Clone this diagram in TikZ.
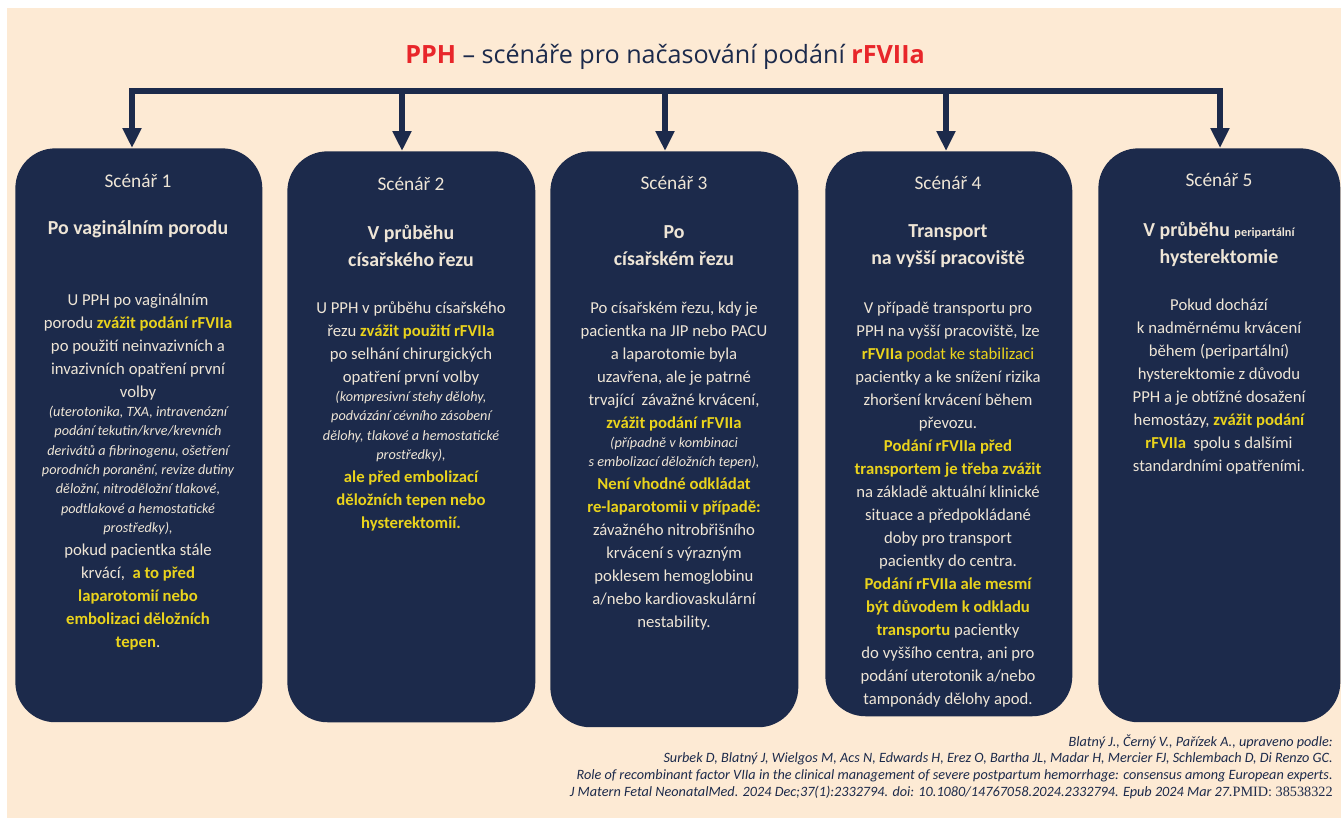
\documentclass[tikz,border=0pt]{standalone}
\usepackage{fontspec}
\setmainfont{Carlito}
\newfontfamily\titlefont{Open Sans}
\newfontfamily\pmidfont{Liberation Serif}
\usetikzlibrary{arrows.meta}

\definecolor{navy}{HTML}{1C2A4B}
\definecolor{peach}{HTML}{FDEAD4}
\definecolor{cardtext}{HTML}{EEE5D6}
\definecolor{hlyellow}{HTML}{EAD31C}
\definecolor{titlered}{HTML}{E8262A}

\newcommand{\hlt}[1]{\textbf{\color{hlyellow}#1}}
\newcommand{\bodysize}{\fontsize{9.5}{13.1}\selectfont}
\newcommand{\notesize}{\fontsize{8.1}{11}\selectfont\itshape}

\tikzset{
  card/.style={fill=navy, rounded corners=0.8cm, inner sep=0pt, anchor=north west},
  scen/.style={text=cardtext, font=\fontsize{11}{13}\selectfont},
  head/.style={text=cardtext, font=\bfseries\fontsize{11.3}{15.3}\selectfont, align=center},
  body/.style={text=cardtext, text width=5.4cm, align=flush center, anchor=base, inner sep=0pt, font=\bodysize},
  drop/.style={draw=navy, line width=0.11cm, -{Triangle[width=0.36cm, length=0.4cm]}},
}

\begin{document}
\begin{tikzpicture}[x=0.02cm, y=-0.02cm]
\useasboundingbox (0,0) rectangle (1341,818);
\fill[white] (0,0) rectangle (1341,818);
\fill[peach] (7,8) rectangle (1341,818);

% title
\node[font=\titlefont\fontsize{14.3}{16}\selectfont, text=navy] (title) at (665,57)
  {\textcolor{titlered}{\bfseries PPH} – scénáře pro načasování podání \textcolor{titlered}{\bfseries rFVIIa}};

% cards
\node[card, minimum width=4.94cm, minimum height=11.48cm] (card1) at (15,148) {};
\node[card, minimum width=4.96cm, minimum height=11.42cm] (card2) at (287,151) {};
\node[card, minimum width=4.96cm, minimum height=11.52cm] (card3) at (550,151) {};
\node[card, minimum width=4.94cm, minimum height=11.30cm] (card4) at (825,151) {};
\node[card, minimum width=4.84cm, minimum height=11.48cm] (card5) at (1098,148) {};

% bus and arrows
\coordinate (b1) at (132,91);
\coordinate (b2) at (402,91);
\coordinate (b3) at (665,91);
\coordinate (b4) at (946,91);
\coordinate (b5) at (1220,91);
\draw[navy, line width=0.13cm, line cap=rect] (b1) -- (b5);
\foreach \i in {1,...,5}
  \draw[drop] (b\i) -- (b\i |- card\i.north);

% scenario labels
\node[scen] (s1) at (138,181) {Scénář 1};
\node[scen] (s2) at (411,184) {Scénář 2};
\node[scen] (s3) at (674,183) {Scénář 3};
\node[scen] (s4) at (948,183) {Scénář 4};
\node[scen] (s5) at (1219,180) {Scénář 5};

\node[head] (h1) at (138,229) {Po vaginálním porodu};
\node[head] (h2) at (411,246) {V průběhu\\císařského řezu};
\node[head] (h3) at (674,246) {Po\\císařském řezu};
\node[head] (h4) at (948,246) {Transport\\na vyšší pracoviště};
\node[head] (h5) at (1219,244) {V průběhu {\fontsize{7}{8}\selectfont peripartální}\\hysterektomie};

% card texts
\node[body] (t1) at (138,305) {%
  U PPH po vaginálním\\
  porodu \hlt{zvážit podání rFVIIa}\\
  po použití neinvazivních a\\
  invazivních opatření první\\
  volby\par
  {\notesize (uterotonika, TXA, intravenózní\\
  podání tekutin/krve/krevních\\
  derivátů a fibrinogenu, ošetření\\
  porodních poranění, revize dutiny\\
  děložní, nitroděložní tlakové,\\
  podtlakové a hemostatické\\
  prostředky),\par}
  pokud pacientka stále\\
  krvácí,~ \hlt{a to před}\\
  \hlt{laparotomií nebo}\\
  \hlt{embolizaci děložních}\\
  \hlt{tepen}.};

\node[body] (t2) at (411,313) {%
  U PPH v průběhu císařského\\
  řezu \hlt{zvážit použití rFVIIa}\\
  po selhání chirurgických\\
  opatření první volby\par
  {\notesize (kompresivní stehy dělohy,\\
  podvázání cévního zásobení\\
  dělohy, tlakové a hemostatické\\
  prostředky),\par}
  \hlt{ale před embolizací}\\
  \hlt{děložních tepen nebo}\\
  \hlt{hysterektomií.}};

\node[body] (t3) at (674,313) {%
  Po císařském řezu, kdy je\\
  pacientka na JIP nebo PACU\\
  a laparotomie byla\\
  uzavřena, ale je patrné\\
  trvající~ závažné krvácení,\\
  \hlt{zvážit podání rFVIIa}\par
  {\notesize (případně v kombinaci\\
  s embolizací děložních tepen),\par}
  \hlt{Není vhodné odkládat}\\
  \hlt{re-laparotomii v případě:}\\
  závažného nitrobřišního\\
  krvácení s výrazným\\
  poklesem hemoglobinu\\
  a/nebo kardiovaskulární\\
  nestability.};

\node[body] (t4) at (948,313) {%
  V případě transportu pro\\
  PPH na vyšší pracoviště, lze\\
  \hlt{rFVIIa} {\color{hlyellow}podat ke stabilizaci}\\
  pacientky a ke snížení rizika\\
  zhoršení krvácení během\\
  převozu.\\
  \hlt{Podání rFVIIa před}\\
  \hlt{transportem je třeba zvážit}\\
  na základě aktuální klinické\\
  situace a předpokládané\\
  doby pro transport\\
  pacientky do centra.\\
  \hlt{Podání rFVIIa ale mesmí}\\
  \hlt{být důvodem k odkladu}\\
  \hlt{transportu} pacientky\\
  do vyššího centra, ani pro\\
  podání uterotonik a/nebo\\
  tamponády dělohy apod.};

\node[body] (t5) at (1219,310) {%
  Pokud dochází\\
  k nadměrnému krvácení\\
  během (peripartální)\\
  hysterektomie z důvodu\\
  PPH a je obtížné dosažení\\
  hemostázy, \hlt{zvážit podání}\\
  \hlt{rFVIIa}~ spolu s dalšími\\
  standardními opatřeními.};

% source
\node[anchor=north east, align=right, text=navy, inner sep=0pt,
      font=\itshape\fontsize{8.1}{9.6}\selectfont] (source) at (1333,734) {%
  Blatný J., Černý V., Pařízek A., upraveno podle:\\
  Surbek D, Blatný J, Wielgos M, Acs N, Edwards H, Erez O, Bartha JL, Madar H, Mercier FJ, Schlembach D, Di Renzo GC.\\
  Role of recombinant factor VIIa in the clinical management of severe postpartum hemorrhage: consensus among European experts.\\
  J Matern Fetal NeonatalMed. 2024 Dec;37(1):2332794. doi: 10.1080/14767058.2024.2332794. Epub 2024 Mar 27.{\pmidfont\upshape PMID: 38538322}};
\end{tikzpicture}
\end{document}
